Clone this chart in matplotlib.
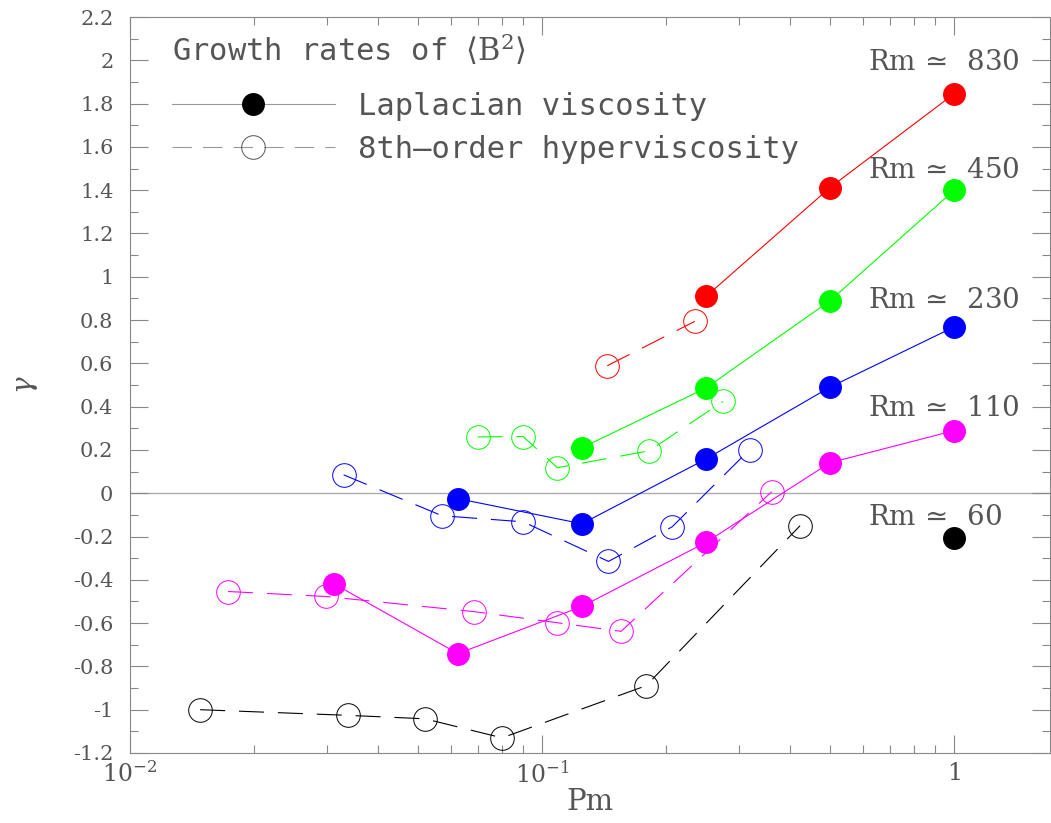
import numpy as np
import matplotlib
matplotlib.use("Agg")
import matplotlib.pyplot as plt
from matplotlib.lines import Line2D
from matplotlib.ticker import LogLocator, MultipleLocator, FixedFormatter, FixedLocator

plt.rcParams['mathtext.fontset'] = 'dejavuserif'
plt.rcParams['lines.scale_dashes'] = False

# Laplacian viscosity runs (filled markers)
pm_lap = [1.0, 0.5, 0.25, 0.125, 0.0625, 0.03125]
g_lap_830 = [1.845, 1.412, 0.909]
g_lap_450 = [1.399, 0.889, 0.486, 0.210]
g_lap_230 = [0.768, 0.490, 0.158, -0.141, -0.025]
g_lap_110 = [0.289, 0.141, -0.227, -0.523, -0.741, -0.418]
g_lap_60 = [-0.205]

# 8th-order hyperviscosity runs (open markers)
pm_hyp_830 = [0.144, 0.235]
g_hyp_830 = [0.589, 0.794]
pm_hyp_450 = [0.0698, 0.090, 0.109, 0.182, 0.275]
g_hyp_450 = [0.260, 0.262, 0.118, 0.196, 0.424]
pm_hyp_230 = [0.033, 0.0572, 0.090, 0.145, 0.207, 0.319]
g_hyp_230 = [0.085, -0.104, -0.132, -0.315, -0.155, 0.201]
pm_hyp_110 = [0.0173, 0.0299, 0.0684, 0.1087, 0.1556, 0.361]
g_hyp_110 = [-0.454, -0.477, -0.547, -0.598, -0.638, 0.007]
pm_hyp_60 = [0.0148, 0.0338, 0.052, 0.080, 0.179, 0.423]
g_hyp_60 = [-1.000, -1.026, -1.042, -1.130, -0.889, -0.150]

rm_labels = ['830', '450', '230', '110', '60']
rm_label_y = [1.993, 1.494, 0.894, 0.395, -0.109]
colors = ['#ff0000', '#00ff00', '#0000ff', '#ff00ff', '#000000']

lap_sets = [g_lap_830, g_lap_450, g_lap_230, g_lap_110, g_lap_60]
hyp_sets = [(pm_hyp_830, g_hyp_830), (pm_hyp_450, g_hyp_450),
            (pm_hyp_230, g_hyp_230), (pm_hyp_110, g_hyp_110),
            (pm_hyp_60, g_hyp_60)]

fig = plt.figure(figsize=(10.51, 8.23), dpi=100)
ax = fig.add_axes([130 / 1051, 70 / 823, 920 / 1051, 736 / 823])

ax.axhline(0, color='#aaaaaa', lw=1.0, zorder=1)

dash = (18, 10)
for col, (px, gy) in zip(colors, hyp_sets):
    ax.plot(px, gy, color=col, lw=0.8, dashes=dash, marker='o', ms=17,
            mfc='none', mec=col, mew=0.7, zorder=2)

for col, gy in zip(colors, lap_sets):
    ax.plot(pm_lap[:len(gy)], gy, color=col, lw=0.8, marker='o', ms=15.5,
            mfc=col, mec=col, zorder=3)

text_col = '#555555'
for lab, yy in zip(rm_labels, rm_label_y):
    ax.text(0.618, yy, r'$\mathrm{Rm}\,\simeq\ \,\mathrm{' + lab + '}$',
            fontsize=20, color=text_col, va='center', ha='left')

ax.set_xscale('log')
ax.set_xlim(0.01, 1.71)
ax.set_ylim(-1.2, 2.2)

ax.xaxis.set_major_locator(FixedLocator([0.01, 0.1, 1]))
ax.xaxis.set_major_formatter(FixedFormatter([r'$10^{-2}$', r'$10^{-1}$', r'$1$']))
ax.xaxis.set_minor_locator(LogLocator(base=10, subs=np.arange(2, 10)))
ax.xaxis.set_minor_formatter(plt.NullFormatter())

yt = np.round(np.arange(-1.2, 2.21, 0.2), 1)
ax.yaxis.set_major_locator(FixedLocator(yt))
ax.yaxis.set_major_formatter(FixedFormatter(['%g' % (v + 0.0) if abs(v) > 1e-9 else '0'
                                             for v in yt]))
ax.yaxis.set_minor_locator(MultipleLocator(0.1))

ax.tick_params(which='both', direction='in', top=True, right=True,
               color='#888888', width=0.8, labelcolor=text_col)
ax.tick_params(which='major', length=13)
ax.tick_params(which='minor', length=6)
ax.tick_params(axis='y', labelsize=15, pad=12)
ax.tick_params(axis='x', labelsize=17, pad=6)
for lbl in ax.get_yticklabels():
    lbl.set_family('DejaVu Serif')
for sp in ax.spines.values():
    sp.set_color('#888888')
    sp.set_linewidth(0.8)

ax.set_xlabel('Pm', fontsize=21, family='DejaVu Serif', color=text_col, labelpad=0)
ax.set_ylabel(r'$\gamma$', fontsize=20, color=text_col, labelpad=24)

mono = 'DejaVu Sans Mono'
ax.text(0.0457, 0.9565, r'Growth rates of $\langle\mathrm{B}^2\rangle$',
        transform=ax.transAxes, fontsize=22, family=mono, color=text_col,
        va='center', ha='left')

h_lap = Line2D([], [], color='#999999', lw=0.8, marker='o', ms=15.5,
               mfc='black', mec='black')
h_hyp = Line2D([], [], color='#999999', lw=0.8, dashes=(14, 8), marker='o',
               ms=17, mfc='none', mec='#555555', mew=0.7)
leg = ax.legend([h_lap, h_hyp], ['Laplacian viscosity', '8th\u2013order hyperviscosity'],
                loc='upper left', bbox_to_anchor=(0.0457, 0.898), frameon=False,
                borderpad=0, borderaxespad=0,
                numpoints=1, handlelength=5.33, handletextpad=0.75,
                labelspacing=0.46, prop={'family': mono, 'size': 22},
                labelcolor=text_col)

fig.savefig('out.png', dpi=100)
